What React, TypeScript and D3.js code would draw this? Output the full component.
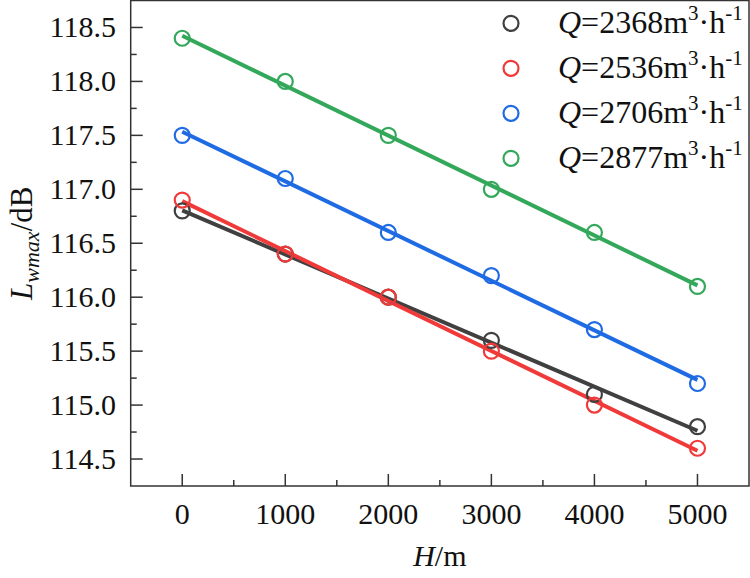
import * as d3 from "d3";

const heights = [0, 1000, 2000, 3000, 4000, 5000];
const flowLabels = ["2368", "2536", "2706", "2877"];
const q2368 = [116.8, 116.4, 116.0, 115.6, 115.1, 114.8];
const q2536 = [116.9, 116.4, 116.0, 115.5, 115.0, 114.6];
const q2706 = [117.5, 117.1, 116.6, 116.2, 115.7, 115.2];
const q2877 = [118.4, 118.0, 117.5, 117.0, 116.6, 116.1];
const yTicks = [114.5, 115.0, 115.5, 116.0, 116.5, 117.0, 117.5, 118.0, 118.5];
const xTicks = [0, 1000, 2000, 3000, 4000, 5000];

const seriesList = [
  { label: flowLabels[0], values: q2368, color: "#404040" },
  { label: flowLabels[1], values: q2536, color: "#f03a3a" },
  { label: flowLabels[2], values: q2706, color: "#1f6be3" },
  { label: flowLabels[3], values: q2877, color: "#34a85a" },
];

// least squares line through one series
function fit(xs: number[], ys: number[]) {
  const mx = d3.mean(xs)!;
  const my = d3.mean(ys)!;
  let num = 0;
  let den = 0;
  xs.forEach((x, i) => {
    num += (x - mx) * (ys[i] - my);
    den += (x - mx) * (x - mx);
  });
  const k = num / den;
  return (x: number) => my + k * (x - mx);
}

const W = 750;
const H = 578;
const FONT = "'Liberation Serif', 'Times New Roman', serif";

export default function App() {
  const left = 130.7;
  const right = 749;
  const top = 0.5;
  const bottom = 486;

  const x = d3.scaleLinear().domain([-500, 5500]).range([left, right]);
  const y = d3.scaleLinear().domain([114.25, 118.75]).range([bottom, top]);

  const yMinor = d3.range(114.75, 118.5, 0.5);
  const xMinor = d3.range(500, 5000, 1000);

  return (
    <svg
      width={W}
      height={H}
      style={{ position: "absolute", left: 0, top: 0, background: "#fff" }}
      fontFamily={FONT}
    >
      {/* fit lines */}
      {seriesList.map((s) => {
        const f = fit(heights, s.values);
        const ends = [heights[0], heights[heights.length - 1]];
        return (
          <path
            key={"l" + s.label}
            d={
              d3
                .line<number>()
                .x((d) => x(d))
                .y((d) => y(f(d)))(ends) ?? ""
            }
            stroke={s.color}
            strokeWidth={4}
            fill="none"
          />
        );
      })}
      {/* markers */}
      {seriesList.map((s) =>
        s.values.map((v, i) => (
          <circle
            key={s.label + i}
            cx={x(heights[i])}
            cy={y(v)}
            r={7.5}
            fill="none"
            stroke={s.color}
            strokeWidth={2.2}
          />
        ))
      )}

      {/* frame */}
      <rect
        x={left}
        y={top}
        width={right - left}
        height={bottom - top}
        fill="none"
        stroke="#333"
        strokeWidth={1.5}
      />

      {/* y ticks */}
      {yTicks.map((t) => (
        <g key={"yt" + t}>
          <line x1={left} x2={left + 12} y1={y(t)} y2={y(t)} stroke="#333" strokeWidth={1.5} />
          <text x={116} y={y(t) + 10} textAnchor="end" fontSize={30} fill="#111">
            {t.toFixed(1)}
          </text>
        </g>
      ))}
      {yMinor.map((t) => (
        <line key={"ym" + t} x1={left} x2={left + 6} y1={y(t)} y2={y(t)} stroke="#333" strokeWidth={1.5} />
      ))}

      {/* x ticks */}
      {xTicks.map((t) => (
        <g key={"xt" + t}>
          <line x1={x(t)} x2={x(t)} y1={bottom} y2={bottom - 12} stroke="#333" strokeWidth={1.5} />
          <text x={x(t)} y={524} textAnchor="middle" fontSize={30} fill="#111">
            {t}
          </text>
        </g>
      ))}
      {xMinor.map((t) => (
        <line key={"xm" + t} x1={x(t)} x2={x(t)} y1={bottom} y2={bottom - 6} stroke="#333" strokeWidth={1.5} />
      ))}

      {/* axis titles */}
      <text x={(left + right) / 2} y={566} textAnchor="middle" fontSize={30} fill="#111">
        <tspan fontStyle="italic">H</tspan>/m
      </text>
      <text
        transform={`translate(32, ${(bottom + top) / 2}) rotate(-90)`}
        textAnchor="middle"
        fontSize={31}
        fill="#111"
      >
        <tspan fontStyle="italic">L</tspan>
        <tspan fontStyle="italic" fontSize={22} dy={7}>
          wmax
        </tspan>
        <tspan dy={-7}>/dB</tspan>
      </text>

      {/* legend */}
      {seriesList.map((s, i) => {
        const cy = 23.3 + i * 45;
        return (
          <g key={"lg" + s.label}>
            <circle cx={511} cy={cy} r={7.5} fill="none" stroke={s.color} strokeWidth={2.2} />
            <text x={558} y={cy + 10} fontSize={32} fill="#111">
              <tspan fontStyle="italic">Q</tspan>={s.label}m
              <tspan fontSize={21} dy={-13}>
                3
              </tspan>
              <tspan dy={13}>·h</tspan>
              <tspan fontSize={21} dy={-13}>
                -1
              </tspan>
            </text>
          </g>
        );
      })}
    </svg>
  );
}
